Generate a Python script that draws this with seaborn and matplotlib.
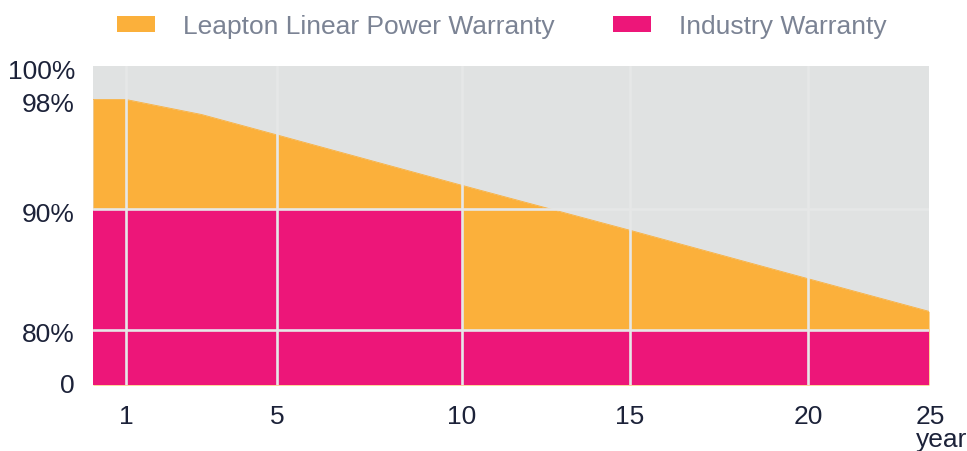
import numpy as np
import matplotlib
matplotlib.use("Agg")
import matplotlib.pyplot as plt
import matplotlib.patches as mpatches
import matplotlib.transforms as mtransforms
import seaborn as sns

# warranty data
leapton_years = [0, 1, 3, 5, 10, 15, 20, 25]
leapton_power = [98.0, 98.0, 96.9, 95.4, 91.7, 88.2, 84.2, 81.5]
industry_years = [0, 10, 25]
industry_power = [90, 80, 80]
x_ticks = [1, 5, 10, 15, 20, 25]
x_unit = "year"
y_ticks = [0, 80, 90, 98, 100]
y_tick_labels = ["0", "80%", "90%", "98%", "100%"]
series_names = ["Leapton Linear Power Warranty", "Industry Warranty"]

# layout: the reference axes are not linear, so map values to pixel positions
x_knots = [-1000, 0, 1, 5, 10, 15, 20, 25, 1025]
x_pix = [-33000, 0, 33, 184, 369, 537, 715, 836, 836 + 24200]
y_knots = [-1000, 0, 80, 90, 98, 100, 1100]
y_pix = [-693.75, 0, 55.5, 176.5, 285.5, 319, 319 + 16750]
# small vertical nudges (pixels) of the y labels, as in the reference
y_label_shift = [2, -2, -3, -2, -3]

orange = "#fbb03b"
pink = "#ed1679"
bg_gray = "#e0e2e2"
grid_col = "#e6e7e7"
text_gray = "#7b8394"
dark = "#1c2239"


def x_fwd(v):
    return np.interp(v, x_knots, x_pix)


def x_inv(p):
    return np.interp(p, x_pix, x_knots)


def y_fwd(v):
    return np.interp(v, y_knots, y_pix)


def y_inv(p):
    return np.interp(p, y_pix, y_knots)


sns.set_style("white")
plt.rcParams["font.family"] = ["Liberation Sans", "DejaVu Sans"]

fig = plt.figure(figsize=(9.67, 4.52), dpi=100)
ax = fig.add_axes([93 / 967, 1 - 386 / 452, 836 / 967, 319 / 452])
ax.set_xscale("function", functions=(x_fwd, x_inv))
ax.set_yscale("function", functions=(y_fwd, y_inv))
ax.set_facecolor(bg_gray)

ax.fill_between(leapton_years, 0, leapton_power, color=orange, lw=0, zorder=1)
ax.fill_between(industry_years, 0, industry_power, step="post", color=pink, lw=0, zorder=2)
sns.lineplot(x=leapton_years, y=leapton_power, color=orange, lw=0.6, ax=ax, zorder=1.5)

# light grid lines drawn on top of the areas
for xv in x_ticks[:-1]:
    ax.axvline(xv, color=grid_col, lw=1.9, zorder=3)
for yv in [80, 90]:
    ax.axhline(yv, color=grid_col, lw=1.9, zorder=3)

ax.set_xlim(0, 25)
ax.set_ylim(0, 100)
ax.set_xticks(x_ticks)
xlabels = [str(t) for t in x_ticks]
xlabels[-1] = xlabels[-1] + "\n" + x_unit
ax.set_xticklabels(xlabels)
ax.set_yticks(y_ticks)
ax.set_yticklabels(y_tick_labels)
ax.minorticks_off()
ax.tick_params(axis="both", length=0, labelsize=19, colors=dark)
ax.tick_params(axis="x", pad=14)
ax.tick_params(axis="y", pad=13)
sns.despine(ax=ax, left=True, bottom=True)

for lab, dy in zip(ax.get_yticklabels(), y_label_shift):
    lab.set_verticalalignment("center_baseline")
    lab.set_transform(lab.get_transform() + mtransforms.ScaledTranslation(0, dy / 100, fig.dpi_scale_trans))

# last x label carries the unit underneath, left aligned like the reference
last = ax.get_xticklabels()[-1]
last.set_horizontalalignment("left")
last.set_multialignment("left")
last.set_linespacing(0.9)
last.set_transform(last.get_transform() + mtransforms.ScaledTranslation(-13 / 100, 0, fig.dpi_scale_trans))

handles = [mpatches.Patch(color=orange, lw=0), mpatches.Patch(color=pink, lw=0)]
leg = fig.legend(handles, series_names, loc="upper left",
                 bbox_to_anchor=(117 / 967, 1 - 15 / 452), ncol=2, frameon=False,
                 fontsize=19, handlelength=1.44, handleheight=0.57,
                 handletextpad=1.06, columnspacing=2.2, borderpad=0,
                 borderaxespad=0)
for t in leg.get_texts():
    t.set_color(text_gray)

fig.savefig("out.png", dpi=100)
